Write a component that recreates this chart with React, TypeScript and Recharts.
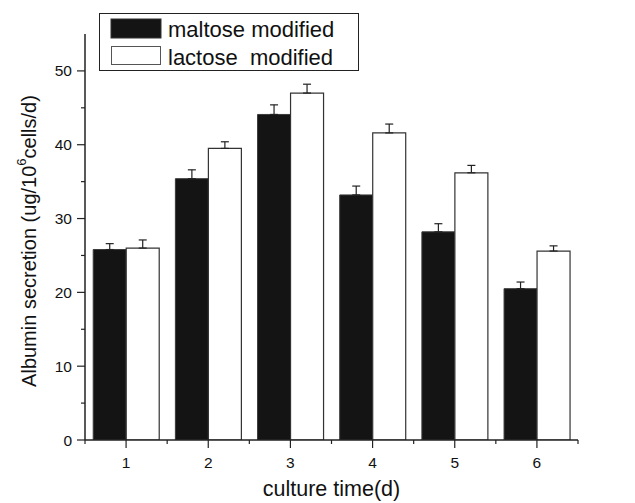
import React from 'react';
import { BarChart, Bar, XAxis, YAxis, ErrorBar, Legend } from 'recharts';

const FONT = '"Liberation Sans", Arial, Helvetica, sans-serif';

const days = ['1', '2', '3', '4', '5', '6'];
const maltose = [25.8, 35.4, 44.1, 33.2, 28.2, 20.5];
const maltoseErr = [0.8, 1.2, 1.3, 1.2, 1.1, 0.9];
const lactose = [26.0, 39.5, 47.0, 41.6, 36.2, 25.6];
const lactoseErr = [1.1, 0.9, 1.2, 1.2, 1.0, 0.7];
const yTicks = [0, 5, 10, 15, 20, 25, 30, 35, 40, 45, 50];
const seriesNames = ['maltose modified', 'lactose  modified'];

const data = days.map((d, i) => ({
  day: d,
  maltose: maltose[i],
  mErr: [0, maltoseErr[i]],
  lactose: lactose[i],
  lErr: [0, lactoseErr[i]],
}));

const YTick = (props: any) => {
  const { x, y, payload } = props;
  const v = payload.value;
  const major = v % 10 === 0;
  return (
    <g>
      <line x1={x - (major ? 8 : 4)} y1={y} x2={x} y2={y} stroke="#222" strokeWidth={1.2} />
      {major && (
        <text x={x - 13} y={y} dy="0.36em" textAnchor="end" fontSize={15.5} fill="#111" fontFamily={FONT}>
          {v}
        </text>
      )}
    </g>
  );
};

const XTick = (props: any) => {
  const { x, y, payload, index, visibleTicksCount } = props;
  const off = payload && typeof payload.offset === 'number' && payload.offset > 0 ? payload.offset : 41;
  const last = index === (visibleTicksCount ?? 6) - 1;
  return (
    <g>
      <line x1={x} y1={y} x2={x} y2={y + 8} stroke="#222" strokeWidth={1.2} />
      <line x1={x - off} y1={y} x2={x - off} y2={y + 4} stroke="#222" strokeWidth={1.2} />
      {last && <line x1={x + off} y1={y} x2={x + off} y2={y + 4} stroke="#222" strokeWidth={1.2} />}
      <text x={x} y={y + 28} textAnchor="middle" fontSize={15.5} fill="#111" fontFamily={FONT}>
        {payload.value}
      </text>
    </g>
  );
};

const YLabel = (props: any) => {
  const vb = props.viewBox || { x: 25, y: 34, width: 60, height: 406 };
  const cx = vb.x + 4;
  const cy = vb.y + vb.height / 2 + 4;
  return (
    <text
      x={cx}
      y={cy}
      transform={`rotate(-90, ${cx}, ${cy})`}
      textAnchor="middle"
      dominantBaseline="central"
      fontSize={20}
      fill="#111"
      fontFamily={FONT}
    >
      <tspan>Albumin secretion (ug/10</tspan>
      <tspan dy={-8} fontSize={13}>6</tspan>
      <tspan dy={8}>cells/d)</tspan>
    </text>
  );
};

const XLabel = (props: any) => {
  const vb = props.viewBox || { x: 85, y: 440, width: 493, height: 63 };
  return (
    <text x={vb.x + vb.width / 2} y={496} textAnchor="middle" fontSize={21.5} fill="#111" fontFamily={FONT}>
      culture time(d)
    </text>
  );
};

const LegendBox = () => (
  <svg width={261} height={59} style={{ display: 'block' }}>
    <rect x={0.5} y={0.5} width={259} height={57} fill="#fff" stroke="#222" strokeWidth={1} />
    <rect x={12} y={6} width={50} height={19} fill="#141414" stroke="#333" />
    <rect x={12.5} y={33.5} width={49} height={18} fill="#fff" stroke="#555" />
    <text x={69} y={24} fontSize={22} fill="#111" fontFamily={FONT} xmlSpace="preserve">
      {seriesNames[0]}
    </text>
    <text x={69} y={51.5} fontSize={22} fill="#111" fontFamily={FONT} xmlSpace="preserve">
      {seriesNames[1]}
    </text>
  </svg>
);

export default function App() {
  return (
    <div style={{ position: 'absolute', left: 0, top: 0, width: 635, height: 503, background: '#fff' }}>
      <BarChart
        width={635}
        height={503}
        data={data}
        margin={{ top: 34, right: 57, bottom: 0, left: 25 }}
        barCategoryGap="10%"
        barGap={0}
      >
        <XAxis
          dataKey="day"
          height={63}
          axisLine={{ stroke: '#222', strokeWidth: 1.5 }}
          tickLine={false}
          tickSize={0}
          tickMargin={0}
          tick={<XTick />}
          interval={0}
          label={<XLabel />}
        />
        <YAxis
          width={60}
          domain={[0, 55]}
          ticks={yTicks}
          allowDataOverflow
          axisLine={{ stroke: '#222', strokeWidth: 1.5 }}
          tickLine={false}
          tickSize={0}
          tickMargin={0}
          tick={<YTick />}
          interval={0}
          label={<YLabel />}
        />
        <Legend
          layout="horizontal"
          verticalAlign="middle"
          align="center"
          wrapperStyle={{ left: 99, top: 13, width: 261, height: 59 }}
          content={() => <LegendBox />}
        />
        <Bar dataKey="maltose" name={seriesNames[0]} fill="#141414" stroke="#3a3a3a" strokeWidth={1} isAnimationActive={false}>
          <ErrorBar dataKey="mErr" width={4} stroke="#222" strokeWidth={1.2} />
        </Bar>
        <Bar dataKey="lactose" name={seriesNames[1]} fill="#ffffff" stroke="#333" strokeWidth={1.2} isAnimationActive={false}>
          <ErrorBar dataKey="lErr" width={4} stroke="#222" strokeWidth={1.2} />
        </Bar>
      </BarChart>
    </div>
  );
}
